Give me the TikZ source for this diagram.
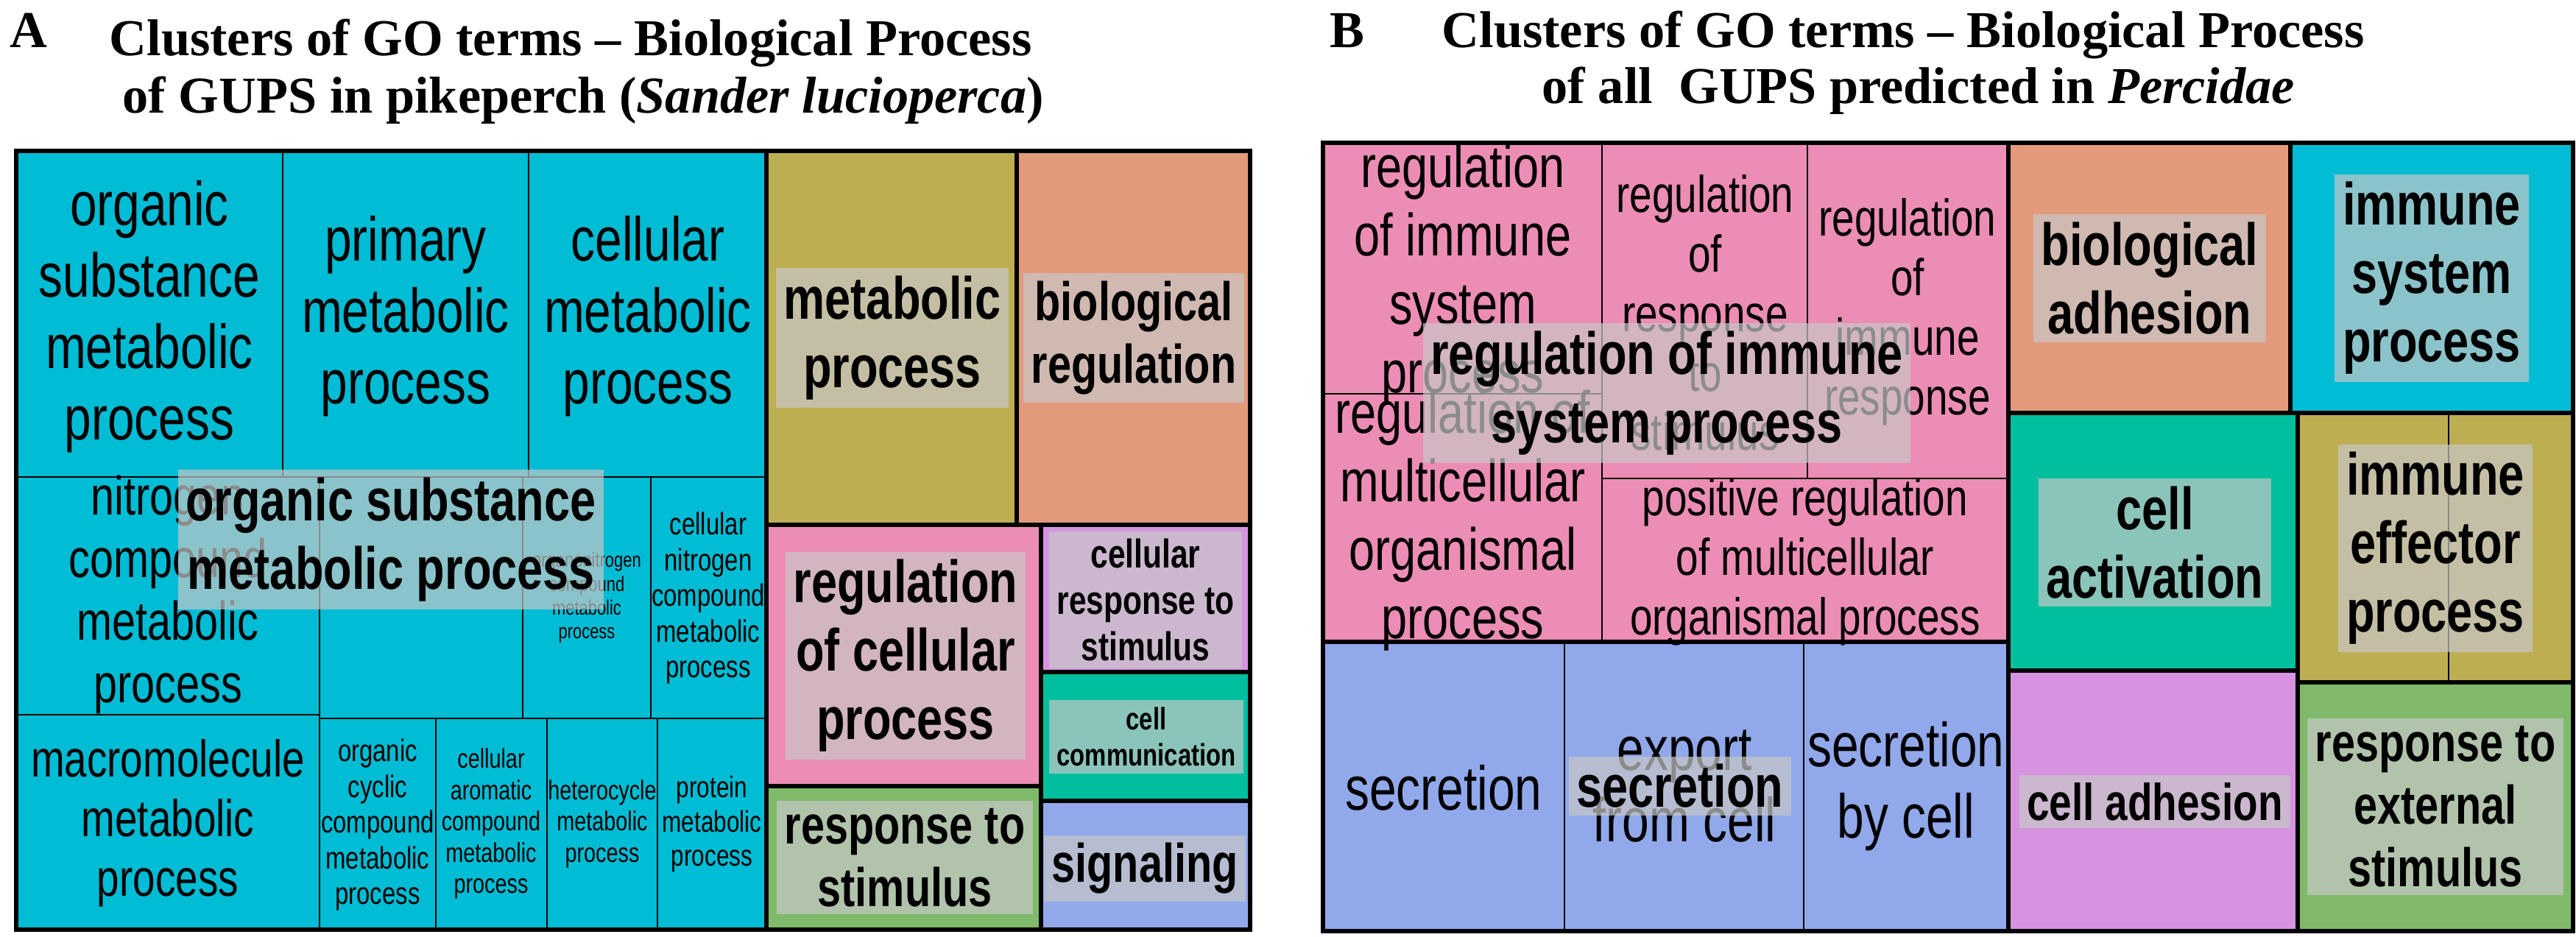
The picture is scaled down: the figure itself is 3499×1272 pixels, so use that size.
\documentclass[tikz,border=0pt]{standalone}
\usepackage{fontspec}
\setmainfont{Liberation Sans}
\newfontfamily\nar{Liberation Sans}[FakeStretch=0.78]
\newfontfamily\tser{Liberation Serif}
\newcommand\fz[1]{\fontsize{#1pt}{\dimexpr #1pt*115/100\relax}\selectfont}
\definecolor{ccyan}{RGB}{0,188,212}
\definecolor{colive}{RGB}{189,174,82}
\definecolor{csalmon}{RGB}{226,154,123}
\definecolor{cpink}{RGB}{236,141,181}
\definecolor{cpurple}{RGB}{214,148,224}
\definecolor{cteal}{RGB}{0,191,158}
\definecolor{cgreen}{RGB}{127,186,106}
\definecolor{cblue}{RGB}{145,168,234}
\definecolor{lgray}{RGB}{199,199,199}
\tikzset{
  thin line/.style={line width=0.6pt},
  thick line/.style={line width=1.8pt},
  txt/.style={align=center, inner sep=0pt, font=\nar\fz{#1}},
  big/.style={align=center, inner sep=3pt, fill=lgray, fill opacity=0.7, text opacity=1, font=\nar\bfseries\fz{#1}},
  ttl/.style={anchor=base west, inner sep=0pt, font=\tser\bfseries\fz{20}},
}
\begin{document}
\begin{tikzpicture}[x=0.01cm,y=-0.01cm]
\useasboundingbox (0,0) rectangle (3499,1272);
% ---------- Panel A ----------
\node[ttl] (tA) at (13,64) {A};
\node[ttl] (tA1) at (148,75) {Clusters of GO terms – Biological Process};
\node[ttl] (tA2) at (166,153) {of GUPS in pikeperch (\textit{Sander lucioperca})};
\fill[ccyan] (22,205) rectangle (1041,1263);
\fill[colive] (1041,205) rectangle (1381,713);
\fill[csalmon] (1381,205) rectangle (1698,713);
\fill[cpink] (1041,713) rectangle (1414,1068);
\fill[cgreen] (1041,1068) rectangle (1414,1263);
\fill[cpurple] (1414,713) rectangle (1698,913);
\fill[cteal] (1414,913) rectangle (1698,1088);
\fill[cblue] (1414,1088) rectangle (1698,1263);
\draw[thin line] (384,205) -- (384,648) (718,205) -- (718,648)
  (22,648) -- (1041,648) (434,648) -- (434,1263) (22,971) -- (434,971)
  (434,976) -- (1041,976) (710,648) -- (710,976) (884,648) -- (884,976)
  (592,976) -- (592,1263) (743,976) -- (743,1263) (893,976) -- (893,1263);
\draw[thick line] (22,205) rectangle (1698,1263) (1041,205) -- (1041,1263)
  (1381,205) -- (1381,713) (1041,713) -- (1698,713) (1414,713) -- (1414,1263)
  (1041,1068) -- (1414,1068) (1414,913) -- (1698,913) (1414,1088) -- (1698,1088);
\node[txt=24] (a1) at (203,430) {organic\\substance\\metabolic\\process};
\node[txt=24] (a2) at (551,430) {primary\\metabolic\\process};
\node[txt=24] (a3) at (880,430) {cellular\\metabolic\\process};
\node[txt=21] (a4) at (228,808) {nitrogen\\compound\\metabolic\\process};
\node[txt=8] (a5) at (797,812) {organonitrogen\\compound\\metabolic\\process};
\node[txt=12] (a6) at (962,813) {cellular\\nitrogen\\compound\\metabolic\\process};
\node[txt=20] (a7) at (228,1118) {macromolecule\\metabolic\\process};
\node[txt=12] (a8) at (513,1121) {organic\\cyclic\\compound\\metabolic\\process};
\node[txt=10.5] (a9) at (667,1119) {cellular\\aromatic\\compound\\metabolic\\process};
\node[txt=10.5] (a10) at (818,1119) {heterocycle\\metabolic\\process};
\node[txt=11.5] (a11) at (967,1120) {protein\\metabolic\\process};
\node[big=23] (A1) at (531,733) {organic substance\\metabolic process};
\node[big=23] (A2) at (1212,459) {metabolic\\process};
\node[big=21] (A3) at (1540,459) {biological\\regulation};
\node[big=23] (A4) at (1230,891) {regulation\\of cellular\\process};
\node[big=15.5] (A5) at (1556,815) {cellular\\response to\\stimulus};
\node[big=12] (A6) at (1557,1001) {cell\\communication};
\node[big=21] (A7) at (1229,1165) {response to\\stimulus};
\node[big=21] (A8) at (1555,1180) {signaling};
% ---------- Panel B ----------
\node[ttl] (tB) at (1806,64) {B};
\node[ttl] (tB1) at (1958,64) {Clusters of GO terms – Biological Process};
\node[ttl] (tB2) at (2094,140) {of all\ \ GUPS predicted in \textit{Percidae}};
\fill[cpink] (1797,194) rectangle (2728,872);
\fill[cblue] (1797,872) rectangle (2728,1265);
\fill[csalmon] (2728,194) rectangle (3111,561);
\fill[ccyan] (3111,194) rectangle (3495,561);
\fill[cteal] (2728,561) rectangle (3121,911);
\fill[colive] (3121,561) rectangle (3495,927);
\fill[cpurple] (2728,911) rectangle (3121,1265);
\fill[cgreen] (3121,927) rectangle (3495,1265);
\draw[thin line] (2176,194) -- (2176,872) (2455,194) -- (2455,650)
  (1797,535) -- (2176,535) (2176,650) -- (2728,650)
  (2125,872) -- (2125,1265) (2450,872) -- (2450,1265) (3326,561) -- (3326,927);
\draw[thick line] (1797,194) rectangle (3495,1265) (1797,872) -- (2728,872)
  (2728,194) -- (2728,1265) (3111,194) -- (3111,561) (2728,561) -- (3495,561)
  (3121,561) -- (3121,1265) (2728,911) -- (3121,911) (3121,927) -- (3495,927);
\node[txt=23] (b1) at (1987,373) {regulation\\of immune\\system\\process};
\node[txt=20] (b2) at (2316,425) {regulation\\of\\response\\to\\stimulus};
\node[txt=20] (b3) at (2591,424) {regulation\\of\\immune\\response};
\node[txt=23] (b4) at (1987,707) {regulation of\\multicellular\\organismal\\process};
\node[txt=20] (b5) at (2452,763) {positive regulation\\of multicellular\\organismal process};
\node[txt=24] (b6) at (1961,1070) {secretion};
\node[txt=24] (b7) at (2288,1068) {export\\from cell};
\node[txt=24] (b8) at (2589,1068) {secretion\\by cell};
\node[big=23] (B1) at (2264,534) {regulation of immune\\system process};
\node[big=23] (B2) at (2920,378) {biological\\adhesion};
\node[big=23] (B3) at (3303,378) {immune\\system\\process};
\node[big=23] (B4) at (2927,737) {cell\\activation};
\node[big=23] (B5) at (3308,745) {immune\\effector\\process};
\node[big=20] (B6) at (2927,1089) {cell adhesion};
\node[big=21] (B7) at (3308,1096) {response to\\external\\stimulus};
\node[big=23] (B8) at (2282,1068) {secretion};
\end{tikzpicture}
\end{document}
